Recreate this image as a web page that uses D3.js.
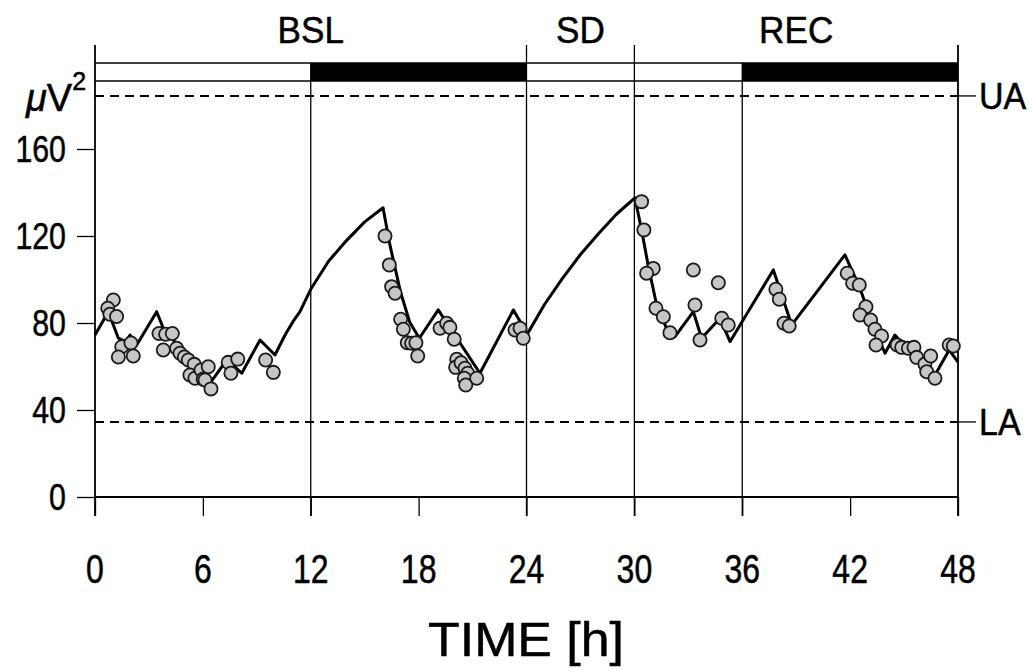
<!DOCTYPE html>
<html>
<head>
<meta charset="utf-8">
<script src="https://cdn.jsdelivr.net/npm/d3@7"></script>
<style>
  html, body { margin: 0; padding: 0; background: #fff; }
  svg { display: block; }
  text { font-family: "Liberation Sans", Arial, Helvetica, sans-serif; fill: #000; stroke: #000; stroke-width: 0.5px; }
</style>
</head>
<body>
<svg id="chart" width="1034" height="670"></svg>
<script>
// ---------- data ----------
const xTicks = [0, 6, 12, 18, 24, 30, 36, 42, 48];
const yTicks = [0, 40, 80, 120, 160];

const phaseLabels = ["BSL", "SD", "REC"];
const phaseStart = [0, 24, 30];
const phaseEnd = [24, 30, 48];

const darkStart = [12, 36];
const darkEnd = [24, 48];

const limitLabels = ["UA", "LA"];
const limitValues = [184.4, 34.5];

// simulated curve (hours, µV²)
const lineHours = [0, 0.74, 1.30, 1.71, 1.95, 2.32, 3.43, 3.80, 6.40, 7.33, 8.16, 9.18, 10.01,
  10.57, 11.0, 11.4, 12, 13, 14, 15, 16.02, 16.4, 17.0, 17.5, 18.04, 19.09, 21.41, 23.27, 24.05,
  25, 26, 27, 28, 29, 30.03, 30.4, 30.78, 31.24, 31.98, 32.26, 33.28, 33.74, 34.76, 35.32,
  37.73, 38.75, 41.71, 42.55, 43.29, 43.94, 44.49, 46.62, 47.51, 48];
const lineValues = [74.5, 85.2, 73.0, 71.4, 74.5, 69.9, 85.2, 77.6, 52.3, 63.0, 56.9, 72.2, 65.3,
  74.5, 80.5, 85.2, 95.5, 108.5, 118, 126.5, 133, 116, 94, 80.5, 73, 86, 56.9, 86, 75,
  88.5, 100.5, 111.5, 121, 130, 137.5, 122.8, 105.9, 88.3, 73.7, 73.7, 85.2, 73.0, 82.2, 71.4,
  104.4, 79.1, 111.3, 96, 78.3, 66.1, 74.5, 54.6, 67.6, 62];

// measured data points (hours, µV²)
const pointHours = [1.02, 0.71, 0.83, 1.20, 1.49, 1.30, 2.00, 2.13, 3.56, 3.80, 3.93, 4.30, 4.54,
  4.73, 4.97, 5.19, 5.52, 5.28, 5.56, 5.90, 6.30, 6.02, 6.12, 6.45, 7.41, 7.56, 7.94, 9.49, 9.92,
  16.13, 16.37, 16.50, 16.69, 17.00, 17.15, 17.37, 17.61, 17.85, 17.95,
  19.19, 19.56, 19.74, 19.98, 20.12, 20.06, 20.36, 20.58, 20.73, 20.54, 20.62, 21.23,
  23.36, 23.64, 23.82,
  30.40, 30.53, 31.05, 30.68, 33.28, 34.67, 31.20, 31.61, 33.37, 31.98, 33.65, 34.86, 35.22,
  37.87, 38.06, 38.32, 38.61, 41.84, 42.14, 42.51, 42.88, 42.55, 43.14, 43.38, 43.75, 43.44,
  44.62, 44.87, 45.24, 45.55, 45.70, 46.16, 46.48, 46.26, 46.72, 47.51, 47.74];
const pointValues = [90.6, 86.8, 84.0, 83.0, 69.1, 64.4, 70.8, 64.8, 75.2, 67.6, 74.8, 75.2, 68.4,
  66.1, 64.4, 63.0, 61.0, 56.1, 54.6, 58.4, 59.9, 54.2, 53.8, 49.7, 61.9, 56.9, 63.4, 63.0, 57.3,
  120.0, 106.7, 96.7, 93.7, 81.7, 77.1, 70.9, 70.7, 70.9, 64.8,
  77.6, 79.9, 78.0, 72.5, 63.3, 59.6, 61.7, 59.2, 56.9, 54.6, 51.5, 54.6,
  76.8, 77.6, 73.0,
  135.8, 122.8, 105.1, 102.9, 104.4, 98.5, 86.8, 82.9, 88.3, 75.5, 72.2, 82.2, 79.1,
  95.5, 90.9, 79.9, 78.6, 102.9, 98.3, 97.5, 87.5, 83.7, 81.4, 77.1, 74.0, 69.9,
  69.9, 68.8, 68.4, 68.8, 64.2, 61.1, 64.8, 57.6, 54.6, 69.9, 69.4];

// ---------- drawing ----------
const svg = d3.select("#chart");
const x = d3.scaleLinear().domain([0, 48]).range([95, 958]);
const y = d3.scaleLinear().domain([0, 160]).range([497, 149]);

const topY = 45, barTop = 63, barBot = 81, tickBot = 516;

function label(px, py, str, size, anchor, sx) {
  return svg.append("text")
    .attr("transform", `translate(${px},${py}) scale(${sx},1)`)
    .attr("text-anchor", anchor)
    .attr("font-size", size)
    .text(str);
}

// dark bars
svg.selectAll("rect.dark").data(darkStart).join("rect")
  .attr("class", "dark")
  .attr("x", d => x(d)).attr("width", (d, i) => x(darkEnd[i]) - x(d))
  .attr("y", barTop).attr("height", barBot - barTop)
  .attr("fill", "#000");

// bar outline lines
svg.append("line").attr("x1", x(0)).attr("x2", x(48)).attr("y1", barTop).attr("y2", barTop)
  .attr("stroke", "#000").attr("stroke-width", 1.5);
svg.append("line").attr("x1", x(0)).attr("x2", x(48)).attr("y1", barBot).attr("y2", barBot)
  .attr("stroke", "#000").attr("stroke-width", 1.5);

// vertical phase lines (tall ones)
const tall = [0, 24, 30, 48];
svg.selectAll("line.tall").data(tall).join("line")
  .attr("class", "tall")
  .attr("x1", d => x(d)).attr("x2", d => x(d))
  .attr("y1", topY).attr("y2", tickBot)
  .attr("stroke", "#000").attr("stroke-width", d => (d === 0 || d === 48) ? 1.8 : 1.3);
const shortL = [12, 36];
svg.selectAll("line.short").data(shortL).join("line")
  .attr("class", "short")
  .attr("x1", d => x(d)).attr("x2", d => x(d))
  .attr("y1", barTop).attr("y2", tickBot)
  .attr("stroke", "#000").attr("stroke-width", 1.3);

// x axis
const xAxis = d3.axisBottom(x).tickValues(xTicks).tickSize(tickBot - 497).tickFormat("");
const gx = svg.append("g").attr("transform", "translate(0,497)").call(xAxis);
gx.select(".domain").attr("stroke", "#000").attr("stroke-width", 1.8).attr("d", `M${x(0)},0H${x(48)}`);
gx.selectAll(".tick line").attr("stroke", "#000").attr("stroke-width", 1.3);
xTicks.forEach(t => label(x(t), 583, String(t), 40, "middle", 0.8));

// y axis
const yAxis = d3.axisLeft(y).tickValues(yTicks).tickSize(18).tickFormat("");
const gy = svg.append("g").attr("transform", `translate(${x(0)},0)`).call(yAxis);
gy.select(".domain").remove();
gy.selectAll(".tick line").attr("stroke", "#000").attr("stroke-width", 1.3);
yTicks.forEach(t => label(66, y(t) + 13, String(t), 37, "end", 0.82));

// limit lines
limitValues.forEach((v, i) => {
  svg.append("line").attr("x1", x(0)).attr("x2", x(48)).attr("y1", y(v)).attr("y2", y(v))
    .attr("stroke", "#000").attr("stroke-width", 2).attr("stroke-dasharray", "9,6");
  svg.append("line").attr("x1", x(48)).attr("x2", x(48) + 18).attr("y1", y(v)).attr("y2", y(v))
    .attr("stroke", "#000").attr("stroke-width", 1.3);
  label(979, y(v) + 13, limitLabels[i], 37, "start", 0.92);
});

// phase labels
phaseLabels.forEach((p, i) => {
  label(x((phaseStart[i] + phaseEnd[i]) / 2), 43, p, 37, "middle", 0.95);
});

// y unit label
const unit = svg.append("text").attr("x", 26).attr("y", 111).attr("font-size", 38);
unit.append("tspan").attr("font-style", "italic").text("μ");
unit.append("tspan").text("V");
unit.append("tspan").attr("font-size", 25).attr("dy", -21).text("2");

// axis title
label(526, 656, "TIME [h]", 48, "middle", 1.08);

// model line
const lineData = lineHours.map((h, i) => [h, lineValues[i]]);
svg.append("path").datum(lineData)
  .attr("fill", "none").attr("stroke", "#000").attr("stroke-width", 3)
  .attr("stroke-linejoin", "round")
  .attr("d", d3.line().x(d => x(d[0])).y(d => y(d[1])));

// data points
const pts = pointHours.map((h, i) => [h, pointValues[i]]);
svg.selectAll("circle.pt").data(pts).join("circle")
  .attr("class", "pt")
  .attr("cx", d => x(d[0])).attr("cy", d => y(d[1])).attr("r", 6.6)
  .attr("fill", "#c6c6c6").attr("stroke", "#1a1a1a").attr("stroke-width", 1.8);
</script>
</body>
</html>
